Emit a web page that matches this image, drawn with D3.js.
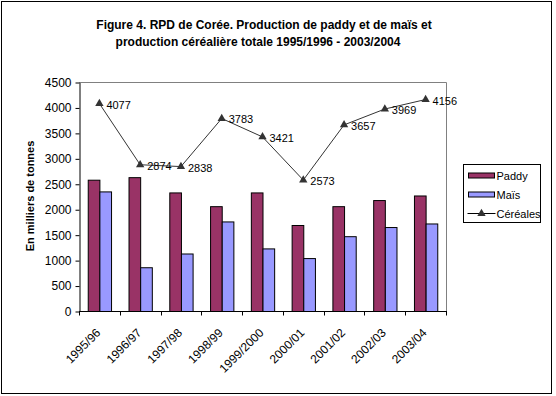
<!DOCTYPE html>
<html>
<head>
<meta charset="utf-8">
<script src="https://cdn.jsdelivr.net/npm/d3@7"></script>
<style>
  body { margin: 0; background: #fff; }
  svg text { font-family: Arial, "Liberation Sans", sans-serif; }
</style>
</head>
<body>
<div id="chart"></div>
<script>
var years = ['1995/96', '1996/97', '1997/98', '1998/99', '1999/2000', '2000/01', '2001/02', '2002/03', '2003/04'];
var paddy = [2580, 2630, 2330, 2060, 2330, 1690, 2060, 2180, 2270];
var mais = [2350, 860, 1130, 1760, 1230, 1040, 1470, 1650, 1720];
var cereales = [4077, 2874, 2838, 3783, 3421, 2573, 3657, 3969, 4156];
var yTicks = [0, 500, 1000, 1500, 2000, 2500, 3000, 3500, 4000, 4500];

var width = 556, height = 396;
var plot = { left: 79, right: 446, top: 82, bottom: 311 };

var svg = d3.select('#chart').append('svg')
    .attr('width', width)
    .attr('height', height);

// outer frame
svg.append('rect')
    .attr('x', 1.5).attr('y', 1.5)
    .attr('width', 550).attr('height', 392)
    .attr('fill', '#fff').attr('stroke', '#000');

// title
var title = svg.append('text')
    .attr('text-anchor', 'middle')
    .attr('font-weight', 'bold')
    .attr('font-size', 12);
title.append('tspan').attr('x', 264).attr('y', 29)
    .text('Figure 4. RPD de Corée. Production de paddy et de maïs et');
title.append('tspan').attr('x', 258).attr('y', 46)
    .text('production céréalière totale 1995/1996 - 2003/2004');

var x = d3.scaleBand().domain(years).range([plot.left, plot.right]);
var y = d3.scaleLinear().domain([0, 4500]).range([plot.bottom, plot.top]);

// bars: Excel gap width 150% -> two bars take 2/3.5 of the band
var bw = x.bandwidth() / 3.5;
var off = x.bandwidth() * 0.75 / 3.5;

// plot frame (top + right grey)
svg.append('path')
    .attr('d', 'M' + plot.left + ',' + (plot.top + 0.5) + 'H' + (plot.right + 0.5) + 'V' + plot.bottom)
    .attr('fill', 'none').attr('stroke', '#808080');

var g = svg.append('g');
g.selectAll('rect.paddy').data(paddy).enter().append('rect')
    .attr('class', 'paddy')
    .attr('x', function (d, i) { return x(years[i]) + off + 0.5; })
    .attr('y', function (d) { return y(d) + 0.5; })
    .attr('width', bw)
    .attr('height', function (d) { return y(0) - y(d); })
    .attr('fill', '#993366').attr('stroke', '#000');

g.selectAll('rect.mais').data(mais).enter().append('rect')
    .attr('class', 'mais')
    .attr('x', function (d, i) { return x(years[i]) + off + bw + 0.5; })
    .attr('y', function (d) { return y(d) + 0.5; })
    .attr('width', bw)
    .attr('height', function (d) { return y(0) - y(d); })
    .attr('fill', '#9999ff').attr('stroke', '#000');

// axes
var yAxis = d3.axisLeft(y).tickValues(yTicks).tickFormat(d3.format('d')).tickSize(4).tickSizeOuter(0);
var ya = svg.append('g')
    .attr('transform', 'translate(' + (plot.left + 0.5) + ',0.5)')
    .call(yAxis);
ya.selectAll('text').attr('font-size', 12).attr('font-family', 'Arial, "Liberation Sans", sans-serif').attr('fill', '#000').attr('x', -8);
ya.selectAll('line').attr('stroke', '#000');
ya.select('.domain').attr('stroke', '#000');

var xa = svg.append('g')
    .attr('transform', 'translate(0,' + (plot.bottom + 0.5) + ')');
xa.append('line')
    .attr('x1', plot.left).attr('x2', plot.right + 1)
    .attr('stroke', '#000');
xa.selectAll('line.tick').data(years.concat(['end'])).enter().append('line')
    .attr('class', 'tick')
    .attr('x1', function (d, i) { return Math.round(plot.left + i * x.step()) + 0.5; })
    .attr('x2', function (d, i) { return Math.round(plot.left + i * x.step()) + 0.5; })
    .attr('y1', 0).attr('y2', 4)
    .attr('stroke', '#000');
xa.selectAll('text').data(years).enter().append('text')
    .attr('font-size', 12)
    .attr('text-anchor', 'end')
    .attr('transform', function (d) {
        return 'translate(' + (x(d) + x.bandwidth() / 2 - 4) + ',16) rotate(-45)';
    })
    .attr('dy', '0.7em')
    .text(function (d) { return d; });

// y axis title
svg.append('text')
    .attr('transform', 'translate(34,196) rotate(-90)')
    .attr('text-anchor', 'middle')
    .attr('font-weight', 'bold')
    .attr('font-size', 11)
    .text('En milliers de tonnes');

// cereales line
var cx = function (d, i) { return x(years[i]) + x.bandwidth() / 2; };
var line = d3.line().x(cx).y(function (d) { return y(d); });
svg.append('path')
    .datum(cereales)
    .attr('d', line)
    .attr('fill', 'none')
    .attr('stroke', '#333')
    .attr('stroke-width', 1);

var tri = d3.symbol().type(d3.symbolTriangle).size(30);
svg.selectAll('path.mark').data(cereales).enter().append('path')
    .attr('class', 'mark')
    .attr('d', tri)
    .attr('transform', function (d, i) { return 'translate(' + cx(d, i) + ',' + y(d) + ')'; })
    .attr('fill', '#333');

svg.selectAll('text.lbl').data(cereales).enter().append('text')
    .attr('class', 'lbl')
    .attr('font-size', 11)
    .attr('x', function (d, i) { return cx(d, i) + 7; })
    .attr('y', function (d) { return y(d) + 5; })
    .text(function (d) { return d; });

// legend
var leg = svg.append('g').attr('transform', 'translate(463.5,164.5)');
leg.append('rect').attr('width', 77).attr('height', 58)
    .attr('fill', '#fff').attr('stroke', '#000');
var legItems = ['Paddy', 'Maïs', 'Céréales'];
var legColors = ['#993366', '#9999ff'];
legItems.forEach(function (name, i) {
    var ly = 11 + i * 19;
    if (i < 2) {
        leg.append('rect').attr('x', 5).attr('y', ly - 2.5)
            .attr('width', 26).attr('height', 5)
            .attr('fill', legColors[i]).attr('stroke', '#000');
    } else {
        leg.append('line').attr('x1', 4).attr('x2', 32).attr('y1', ly).attr('y2', ly)
            .attr('stroke', '#000');
        leg.append('path').attr('d', tri).attr('transform', 'translate(18,' + ly + ')')
            .attr('fill', '#333');
    }
    leg.append('text').attr('x', 33).attr('y', ly + 4)
        .attr('font-size', 11).text(name);
});
</script>
</body>
</html>
